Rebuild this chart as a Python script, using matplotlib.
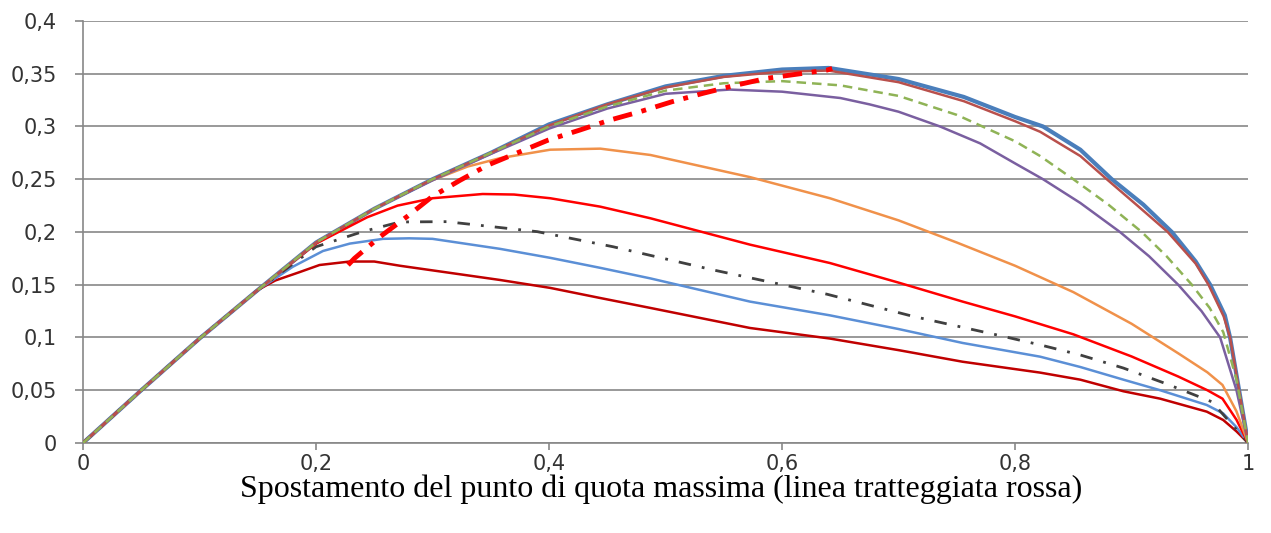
import matplotlib
matplotlib.use("Agg")
import matplotlib.pyplot as plt
from matplotlib.ticker import FuncFormatter

# ----------------------- data -----------------------
blue_x = [0, 0.05, 0.1, 0.15, 0.2, 0.25, 0.3, 0.35, 0.4, 0.45, 0.5, 0.55, 0.6, 0.64, 0.7, 0.756,
          0.8, 0.824, 0.856, 0.883, 0.91, 0.9345, 0.955, 0.9674, 0.98, 0.9845, 1.0]
blue_y = [0, 0.05, 0.099, 0.145, 0.19, 0.222, 0.25, 0.275, 0.302, 0.321, 0.338, 0.348, 0.354, 0.3555, 0.345, 0.328,
          0.309, 0.30, 0.278, 0.25, 0.226, 0.20, 0.172, 0.15, 0.121, 0.10, 0.0]

brown_x = [0, 0.05, 0.1, 0.15, 0.2, 0.25, 0.3, 0.35, 0.4, 0.45, 0.5, 0.55, 0.6, 0.64, 0.7, 0.756,
           0.8, 0.8215, 0.856, 0.8787, 0.905, 0.931, 0.955, 0.966, 0.979, 0.9845, 1.0]
brown_y = [0, 0.05, 0.099, 0.145, 0.19, 0.222, 0.25, 0.275, 0.301, 0.321, 0.337, 0.347, 0.352, 0.353, 0.342, 0.324,
           0.305, 0.295, 0.272, 0.25, 0.225, 0.20, 0.17, 0.15, 0.12, 0.10, 0.0]

green_x = [0, 0.05, 0.1, 0.15, 0.2, 0.25, 0.3, 0.35, 0.4, 0.45, 0.5, 0.55, 0.6, 0.65, 0.7, 0.75,
           0.8, 0.8215, 0.85, 0.88, 0.9087, 0.93, 0.9517, 0.967, 0.9787, 0.99, 1.0]
green_y = [0, 0.05, 0.099, 0.145, 0.19, 0.222, 0.25, 0.275, 0.30, 0.319, 0.334, 0.341, 0.343, 0.339, 0.329, 0.311,
           0.286, 0.272, 0.25, 0.226, 0.20, 0.177, 0.15, 0.128, 0.105, 0.06, 0.0]

purple_x = [0, 0.05, 0.1, 0.15, 0.2, 0.25, 0.3, 0.35, 0.4, 0.45, 0.5, 0.555, 0.6, 0.65, 0.675, 0.7, 0.7356,
            0.77, 0.8, 0.824, 0.856, 0.89, 0.915, 0.94, 0.96, 0.976, 0.99, 1.0]
purple_y = [0, 0.05, 0.099, 0.145, 0.19, 0.222, 0.249, 0.274, 0.298, 0.317, 0.331, 0.335, 0.333, 0.327, 0.321, 0.314, 0.30,
            0.284, 0.265, 0.25, 0.2275, 0.20, 0.177, 0.15, 0.125, 0.10, 0.05, 0.0]

orange_x = [0, 0.05, 0.1, 0.15, 0.2, 0.25, 0.295, 0.33, 0.358, 0.401, 0.444, 0.487, 0.5725, 0.641,
            0.7, 0.75, 0.8, 0.85, 0.9, 0.94, 0.965, 0.978, 0.99, 1.0]
orange_y = [0, 0.05, 0.099, 0.145, 0.19, 0.222, 0.247, 0.262, 0.27, 0.278, 0.279, 0.273, 0.252, 0.232,
            0.211, 0.19, 0.168, 0.143, 0.113, 0.085, 0.067, 0.055, 0.03, 0.0]

red_x = [0, 0.05, 0.1, 0.15, 0.2, 0.244, 0.27, 0.3, 0.343, 0.37, 0.401, 0.444, 0.487, 0.5725, 0.641,
         0.7, 0.755, 0.8, 0.85, 0.9, 0.94, 0.965, 0.978, 0.99, 1.0]
red_y = [0, 0.05, 0.099, 0.145, 0.189, 0.214, 0.225, 0.232, 0.236, 0.2355, 0.232, 0.224, 0.213, 0.188, 0.1706,
         0.152, 0.134, 0.12, 0.103, 0.082, 0.063, 0.05, 0.042, 0.022, 0.0]

black_x = [0, 0.05, 0.1, 0.15, 0.2, 0.24, 0.272, 0.312, 0.39, 0.455, 0.541, 0.6386, 0.7125, 0.7845,
           0.8215, 0.856, 0.893, 0.93, 0.969, 1.0]
black_y = [0, 0.05, 0.099, 0.145, 0.186, 0.2003, 0.2095, 0.2098, 0.2003, 0.186, 0.164, 0.141, 0.12, 0.1024,
           0.093, 0.0834, 0.071, 0.056, 0.039, 0.0]

lblue_x = [0, 0.05, 0.1, 0.15, 0.18, 0.206, 0.229, 0.2575, 0.28, 0.3, 0.358, 0.401, 0.444, 0.487, 0.5725,
           0.641, 0.7, 0.755, 0.8215, 0.856, 0.893, 0.9245, 0.9645, 0.9786, 0.99, 1.0]
lblue_y = [0, 0.05, 0.099, 0.145, 0.167, 0.182, 0.189, 0.1935, 0.194, 0.1935, 0.184, 0.1755, 0.166, 0.156, 0.134,
           0.121, 0.108, 0.0948, 0.0818, 0.072, 0.06, 0.05, 0.036, 0.028, 0.015, 0.0]

dred_x = [0, 0.05, 0.1, 0.15, 0.165, 0.186, 0.203, 0.229, 0.25, 0.272, 0.358, 0.401, 0.444, 0.487, 0.5725,
          0.641, 0.7, 0.755, 0.8215, 0.856, 0.893, 0.9245, 0.9645, 0.9786, 0.99, 1.0]
dred_y = [0, 0.05, 0.099, 0.145, 0.154, 0.162, 0.1687, 0.172, 0.172, 0.168, 0.1545, 0.147, 0.1374, 0.128, 0.109,
          0.099, 0.088, 0.077, 0.0667, 0.06, 0.049, 0.042, 0.0297, 0.0218, 0.011, 0.0]

# spostamento del punto di quota massima
peak_x = [0.2275, 0.233, 0.255, 0.278, 0.2996, 0.3236, 0.3476, 0.375, 0.399, 0.4266, 0.452, 0.478,
          0.5056, 0.532, 0.5597, 0.587, 0.6386, 0.643]
peak_y = [0.1687, 0.175, 0.1955, 0.2145, 0.2335, 0.249, 0.2635, 0.276, 0.287, 0.2967, 0.306, 0.314,
          0.3235, 0.3314, 0.339, 0.3457, 0.3535, 0.355]

x_ticks = [0, 0.2, 0.4, 0.6, 0.8, 1.0]
y_ticks = [0, 0.05, 0.1, 0.15, 0.2, 0.25, 0.3, 0.35, 0.4]

# ----------------------- figure -----------------------
fig = plt.figure(figsize=(12.71, 5.33), dpi=100)
ax = fig.add_axes([0.0653, 0.1689, 0.9167, 0.7917])

grid_c = "#878787"
ax.set_xlim(0, 1)
ax.set_ylim(0, 0.4)
ax.set_yticks(y_ticks)
ax.set_xticks(x_ticks)
ax.yaxis.grid(True, color=grid_c, linewidth=1.2)
ax.set_axisbelow(True)
for s in ["top", "right"]:
    ax.spines[s].set_visible(False)
for s in ["left", "bottom"]:
    ax.spines[s].set_color(grid_c)
    ax.spines[s].set_linewidth(1.2)


def comma(v, pos):
    s = f"{v:.2f}".rstrip("0").rstrip(".")
    return s.replace(".", ",")


ax.xaxis.set_major_formatter(FuncFormatter(comma))
ax.yaxis.set_major_formatter(FuncFormatter(comma))
ax.tick_params(axis="both", colors=grid_c, labelcolor="#333333", labelsize=15, width=1.2)
ax.tick_params(axis="y", length=5.8, pad=13)
ax.tick_params(axis="x", length=5, pad=3)

ax.plot(dred_x, dred_y, color="#c00000", lw=1.8, zorder=3)
ax.plot(lblue_x, lblue_y, color="#5b8fd6", lw=1.8, zorder=3)
ax.plot(black_x, black_y, color="#404040", lw=2.0, ls=(0, (4.5, 4, 1, 4)), zorder=3)
ax.plot(red_x, red_y, color="#ff0000", lw=1.8, zorder=3)
ax.plot(orange_x, orange_y, color="#f0914a", lw=1.8, zorder=3)
ax.plot(purple_x, purple_y, color="#7a5fa0", lw=1.8, zorder=3)
ax.plot(green_x, green_y, color="#8fb356", lw=1.8, ls=(0, (3.8, 2.4)), zorder=4)
ax.plot(blue_x, blue_y, color="#4a7ebb", lw=3.0, zorder=2)
ax.plot(brown_x, brown_y, color="#b9504c", lw=1.8, zorder=3)
ax.plot(peak_x, peak_y, color="#ff0000", lw=3.5, ls=(0, (4, 2, 1, 2)), zorder=5)

fig.text(0.5205, 0.083, "Spostamento del punto di quota massima (linea tratteggiata rossa)",
         ha="center", va="center", fontsize=23, family="Liberation Serif", color="black")

plt.savefig("out.png", dpi=100)
plt.close(fig)
